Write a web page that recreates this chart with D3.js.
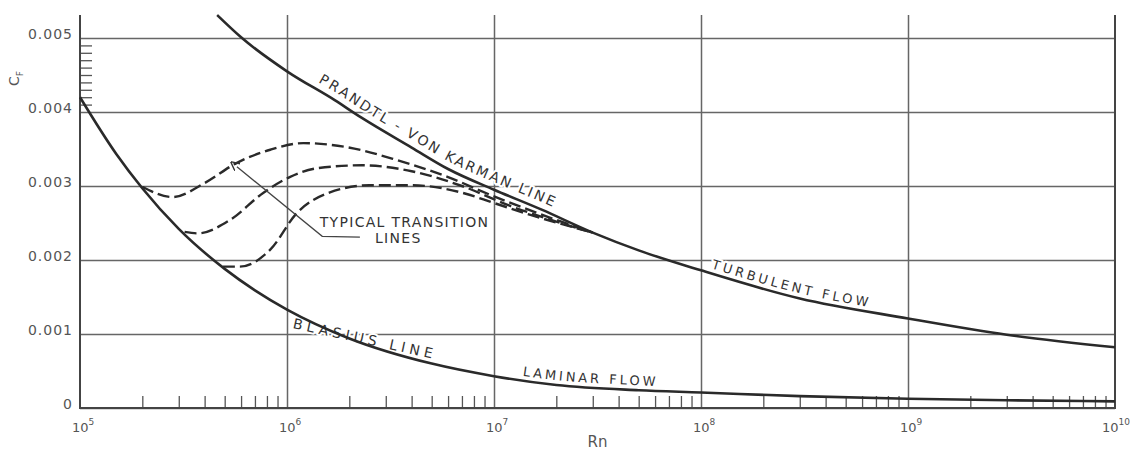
<!DOCTYPE html>
<html>
<head>
<meta charset="utf-8">
<script src="https://cdn.jsdelivr.net/npm/d3@7"></script>
<style>
  body { margin: 0; background: #fff; }
  svg { display: block; }
  .lbl { font-family: "DejaVu Sans", sans-serif; fill: #333; stroke: #fff; stroke-width: 4px; paint-order: stroke; stroke-linejoin: round; }
  .tick-lbl { font-family: "DejaVu Sans", sans-serif; fill: #555; }
</style>
</head>
<body>
<div id="chart"></div>
<script>
// Reynolds number decades on the x axis
const decades = [1e5, 1e6, 1e7, 1e8, 1e9, 1e10];
const decadeExp = ['5', '6', '7', '8', '9', '10'];
const yTicks = [0, 0.001, 0.002, 0.003, 0.004, 0.005];
const yTickLabels = ['0', '0.001', '0.002', '0.003', '0.004', '0.005'];
const yMinorTicks = [0.0041, 0.0042, 0.0043, 0.0044, 0.0045, 0.0046, 0.0047, 0.0048, 0.0049];

// Prandtl - von Karman (turbulent) line
const turbRn = [4.6e5, 6e5, 1e6, 1.7e6, 2.3e6, 4e6, 6e6, 1e7, 1.7e7, 3e7, 5e7, 1e8, 3e8, 1e9, 3e9, 1e10];
const turbCf = [0.00531, 0.00501, 0.00455, 0.00416, 0.00392, 0.00352, 0.00323, 0.00295, 0.00268, 0.00237, 0.00213, 0.00186, 0.00148, 0.00121, 0.00099, 0.00082];

// Blasius (laminar) line
const lamRn = [1e5, 1.5e5, 2e5, 3e5, 5e5, 7e5, 1e6, 2e6, 5e6, 1e7, 2e7, 5e7, 1e8, 3e8, 1e9, 3e9, 1e10];
const lamCf = [0.00420, 0.00343, 0.00297, 0.00242, 0.00188, 0.00159, 0.00133, 0.00094, 0.00060, 0.00043, 0.00031, 0.00024, 0.00021, 0.00016, 0.000125, 0.000105, 0.00009];

// typical transition lines (dashed)
const tr1Rn = [2e5, 2.8e5, 4e5, 5.7e5, 8.3e5, 1.2e6, 1.9e6, 3.4e6, 6e6, 1e7, 1.6e7, 3e7];
const tr1Cf = [0.00299, 0.00285, 0.00304, 0.00331, 0.00349, 0.00358, 0.00353, 0.00335, 0.00312, 0.00286, 0.00264, 0.00237];
const tr2Rn = [3.2e5, 3.7e5, 5.3e5, 7.7e5, 1.03e6, 1.4e6, 2.3e6, 4e6, 7e6, 1.2e7, 2e7, 3e7];
const tr2Cf = [0.00238, 0.00236, 0.00254, 0.00291, 0.00312, 0.00324, 0.00328, 0.0032, 0.003, 0.00273, 0.00252, 0.00237];
const tr3Rn = [4.9e5, 5.9e5, 8.3e5, 1.12e6, 1.6e6, 2.5e6, 4e6, 7e6, 1e7, 1.5e7, 3e7];
const tr3Cf = [0.00191, 0.00191, 0.00214, 0.00264, 0.00291, 0.00301, 0.00301, 0.00291, 0.00277, 0.00261, 0.00237];

// leader for the transition label: tip, elbow, end
const leaderRn = [5.73e5, 1.48e6, 2.25e6];
const leaderCf = [0.00326, 0.00232, 0.00231];

const width = 1131, height = 450;
const left = 80, right = 1115, bottom = 408;
const cfTop = 0.00531;

const svg = d3.select('#chart').append('svg')
    .attr('width', width)
    .attr('height', height);
svg.append('rect').attr('width', width).attr('height', height).attr('fill', '#fff');

const x = d3.scaleLog().domain([1e5, 1e10]).range([left, right]);
const y = d3.scaleLinear().domain([0, 0.005]).range([bottom, 38]);
const plotTop = y(cfTop);

const gGrid = svg.append('g');
const gLabels = svg.append('g');
const gCurves = svg.append('g');

// horizontal grid + y labels
const yAxis = gGrid.append('g')
    .attr('transform', `translate(${left},0)`)
    .call(d3.axisLeft(y).tickValues(yTicks).tickSize(-(right - left)).tickPadding(7)
        .tickFormat((d, i) => yTickLabels[i]));
yAxis.select('.domain').remove();
yAxis.selectAll('line').attr('stroke', '#666').attr('stroke-width', 1.5);
yAxis.selectAll('text').attr('class', 'tick-lbl').attr('dy', '0.05em')
    .attr('font-size', 14).attr('letter-spacing', 1).attr('font-family', null).attr('fill', null);

// short ticks between 0.004 and 0.005
const yMinor = gGrid.append('g')
    .attr('transform', `translate(${left},0)`)
    .call(d3.axisLeft(y).tickValues(yMinorTicks).tickSize(-12).tickFormat(''));
yMinor.select('.domain').remove();
yMinor.selectAll('line').attr('stroke', '#555').attr('stroke-width', 1.3);

// vertical grid
const xGrid = gGrid.append('g')
    .attr('transform', `translate(0,${bottom})`)
    .call(d3.axisBottom(x).tickValues(decades.slice(1, -1)).tickSize(-(bottom - plotTop)).tickFormat(''));
xGrid.select('.domain').remove();
xGrid.selectAll('line').attr('stroke', '#666').attr('stroke-width', 1.5);

// minor x ticks (2..9 in each decade)
const minorX = [];
decades.slice(0, -1).forEach(d => { for (let k = 2; k <= 9; k++) minorX.push(d * k); });
const xMinor = gGrid.append('g')
    .attr('transform', `translate(0,${bottom})`)
    .call(d3.axisBottom(x).tickValues(minorX).tickSize(-12).tickFormat(''));
xMinor.select('.domain').remove();
xMinor.selectAll('line').attr('stroke', '#555').attr('stroke-width', 1.3);

// frame
gGrid.append('path')
    .attr('d', `M${left},${plotTop}V${bottom}H${right}V${plotTop}`)
    .attr('fill', 'none').attr('stroke', '#444').attr('stroke-width', 2);

// x labels 10^n
decades.forEach((d, i) => {
    const t = gGrid.append('text').attr('class', 'tick-lbl')
        .attr('x', x(d) - (i === decades.length - 1 ? 13 : 8)).attr('y', 432).attr('font-size', 13);
    t.append('tspan').text('10');
    t.append('tspan').attr('dy', -7).attr('font-size', 9).text(decadeExp[i]);
});

// axis titles
svg.append('text').attr('class', 'tick-lbl')
    .attr('x', (left + right) / 2).attr('y', 447).attr('text-anchor', 'middle')
    .attr('font-size', 15).attr('fill', '#444').text('Rn');
const cf = svg.append('text').attr('class', 'tick-lbl')
    .attr('transform', 'translate(19,86) rotate(-90)').attr('font-size', 14).attr('fill', '#444');
cf.append('tspan').text('C');
cf.append('tspan').attr('dy', 4).attr('font-size', 9).text('F');

// curves
const line = d3.line().x(d => x(d[0])).y(d => y(d[1])).curve(d3.curveMonotoneX);
const zip = (a, b) => a.map((v, i) => [v, b[i]]);

const turbPath = gCurves.append('path').attr('id', 'turb')
    .attr('d', line(zip(turbRn, turbCf)))
    .attr('fill', 'none').attr('stroke', '#2a2a2a').attr('stroke-width', 2.6);
const lamPath = gCurves.append('path').attr('id', 'lam')
    .attr('d', line(zip(lamRn, lamCf)))
    .attr('fill', 'none').attr('stroke', '#2a2a2a').attr('stroke-width', 2.6);

[[tr1Rn, tr1Cf], [tr2Rn, tr2Cf], [tr3Rn, tr3Cf]].forEach(([r, c]) => {
    gCurves.append('path')
        .attr('d', line(zip(r, c)))
        .attr('fill', 'none').attr('stroke', '#2a2a2a').attr('stroke-width', 2.4)
        .attr('stroke-dasharray', '12,5');
});

// leader with arrow
svg.append('defs').append('marker')
    .attr('id', 'arrow').attr('viewBox', '0 0 10 10').attr('refX', 1).attr('refY', 5)
    .attr('markerWidth', 9).attr('markerHeight', 9).attr('markerUnits', 'userSpaceOnUse')
    .attr('orient', 'auto-start-reverse')
    .append('path').attr('d', 'M0,0L10,5L0,10').attr('fill', 'none').attr('stroke', '#333').attr('stroke-width', 1.5);
const leaderLine = d3.line().x(d => x(d[0])).y(d => y(d[1]));
gCurves.append('path')
    .attr('d', leaderLine(zip(leaderRn, leaderCf)))
    .attr('fill', 'none').attr('stroke', '#444').attr('stroke-width', 1.3)
    .attr('marker-start', 'url(#arrow)');

// labels following curves
function lenAtX(node, px) {
    let lo = 0, hi = node.getTotalLength();
    for (let i = 0; i < 30; i++) {
        const mid = (lo + hi) / 2;
        if (node.getPointAtLength(mid).x < px) lo = mid; else hi = mid;
    }
    return lo;
}
function curveLabel(path, id, str, rn0, rn1, dy, size) {
    const node = path.node();
    const l0 = lenAtX(node, x(rn0)), l1 = lenAtX(node, x(rn1));
    const t = gLabels.append('text').attr('class', 'lbl').attr('dy', dy).attr('font-size', size);
    t.append('textPath').attr('href', '#' + id).attr('startOffset', l0).text(str);
    const natural = t.node().getComputedTextLength();
    t.attr('letter-spacing', Math.max(0, (l1 - l0 - natural) / (str.length - 1)));
}
curveLabel(turbPath, 'turb', 'PRANDTL - VON KARMAN LINE', 1.36e6, 1.86e7, -7, 14);
curveLabel(turbPath, 'turb', 'TURBULENT FLOW', 1.1e8, 6.3e8, -5, 13);
curveLabel(lamPath, 'lam', 'LAMINAR FLOW', 1.36e7, 6e7, -5, 13);

// Blasius label, straight
const bx0 = x(1.06e6), by0 = y(0.00108), bx1 = x(5e6), by1 = y(0.00067);
const bAng = Math.atan2(by1 - by0, bx1 - bx0) * 180 / Math.PI;
const bl = gLabels.append('text').attr('class', 'lbl').attr('font-size', 14)
    .attr('transform', `translate(${bx0},${by0}) rotate(${bAng})`).text('BLASIUS LINE');
const bNat = bl.node().getComputedTextLength();
bl.attr('letter-spacing', (Math.hypot(bx1 - bx0, by1 - by0) - bNat) / 11);

// transition label
gLabels.append('text').attr('class', 'lbl').attr('font-size', 14).attr('letter-spacing', 1.3)
    .attr('x', x(1.44e6)).attr('y', y(0.00245)).text('TYPICAL TRANSITION');
gLabels.append('text').attr('class', 'lbl').attr('font-size', 14).attr('letter-spacing', 1.3)
    .attr('x', x(2.66e6)).attr('y', y(0.00223)).text('LINES');
</script>
</body>
</html>
